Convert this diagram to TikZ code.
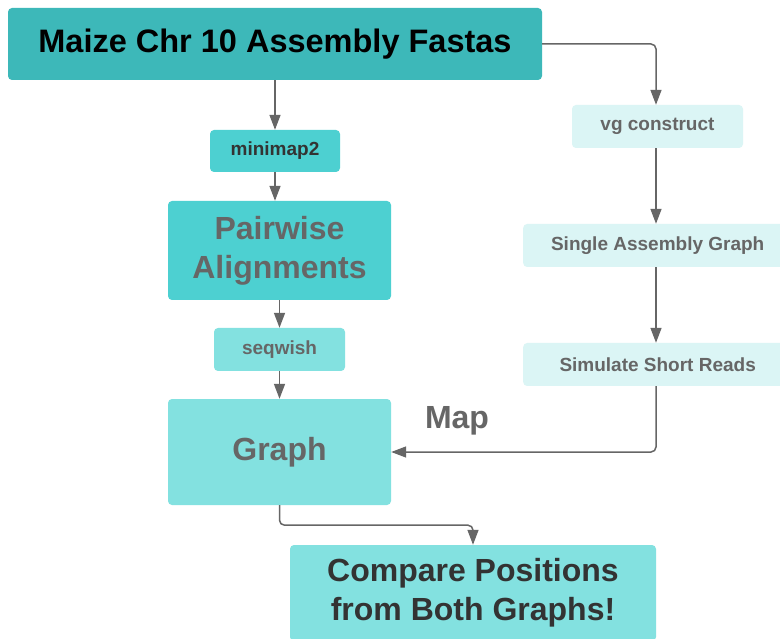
\documentclass[tikz,border=0pt]{standalone}
\usepackage{fontspec}
\setmainfont{Liberation Sans}
\usetikzlibrary{arrows.meta}
\definecolor{cTitle}{HTML}{3DB8B9}
\definecolor{cMid}{HTML}{4DD0D1}
\definecolor{cLight}{HTML}{83E1E0}
\definecolor{cPale}{HTML}{DBF5F5}
\definecolor{cGrayTxt}{HTML}{666666}
\definecolor{cDarkTxt}{HTML}{333333}
\definecolor{cLine}{HTML}{666666}
\tikzset{
  box/.style={rectangle, rounded corners=4pt, inner sep=0pt, draw=none, align=center, font=\bfseries},
  bigtxt/.style={font=\bfseries\fontsize{32}{39}\selectfont},
  smalltxt/.style={font=\bfseries\fontsize{19}{22}\selectfont},
  conn/.style={draw=cLine, line width=1.5pt, -{Triangle[length=15pt,width=11pt]}, rounded corners=5pt},
}
\begin{document}
\begin{tikzpicture}[x=1pt,y=-1pt]
\useasboundingbox (0,0) rectangle (780,639);
\fill[white] (0,0) rectangle (780,639);
% nodes
\node[box, fill=cTitle, minimum width=534pt, minimum height=72pt, font=\bfseries\fontsize{32.5}{39}\selectfont, text=black] (title) at (275,44) {Maize Chr 10 Assembly Fastas};
\node[box, fill=cMid, minimum width=130pt, minimum height=42pt, smalltxt, text=cDarkTxt] (minimap) at (275,151) {minimap2};
\node[box, fill=cMid, minimum width=223pt, minimum height=99pt, bigtxt, text=cGrayTxt] (pair) at (279.5,250.5) {Pairwise\\Alignments};
\node[box, fill=cLight, minimum width=131pt, minimum height=43pt, smalltxt, text=cGrayTxt] (seqwish) at (279.5,349.5) {seqwish};
\node[box, fill=cLight, minimum width=223pt, minimum height=106pt, bigtxt, text=cGrayTxt] (graph) at (279.5,452) {Graph};
\node[box, fill=cLight, minimum width=366pt, minimum height=96pt, bigtxt, text=cDarkTxt] (compare) at (473,593) {Compare Positions\\from Both Graphs!};
\node[box, fill=cPale, minimum width=171pt, minimum height=43pt, smalltxt, text=cGrayTxt] (vg) at (657.5,126.5) {vg construct};
\node[box, fill=cPale, minimum width=269pt, minimum height=43pt, smalltxt, text=cGrayTxt, anchor=west] (single) at (523,245.5) {Single Assembly Graph};
\node[box, fill=cPale, minimum width=269pt, minimum height=43pt, smalltxt, text=cGrayTxt, anchor=west] (sim) at (523,364.5) {Simulate Short Reads};
\node[bigtxt, text=cGrayTxt, inner sep=0pt] (maplbl) at (457,421) {Map};
\coordinate (rx) at (656,0);
% connectors
\draw[conn] (title.south -| minimap.north) -- (minimap.north);
\draw[conn] (minimap.south) -- (minimap.south |- pair.north);
\draw[conn] (pair.south) -- (seqwish.north);
\draw[conn] (seqwish.south) -- (graph.north);
\draw[conn] (title.east) -| (rx |- vg.north);
\draw[conn] (rx |- vg.south) -- (rx |- single.north);
\draw[conn] (rx |- single.south) -- (rx |- sim.north);
\draw[conn] (rx |- sim.south) |- (graph.east);
\draw[conn] (graph.south) -- ++(0,20) -| (compare.north);
\end{tikzpicture}
\end{document}
